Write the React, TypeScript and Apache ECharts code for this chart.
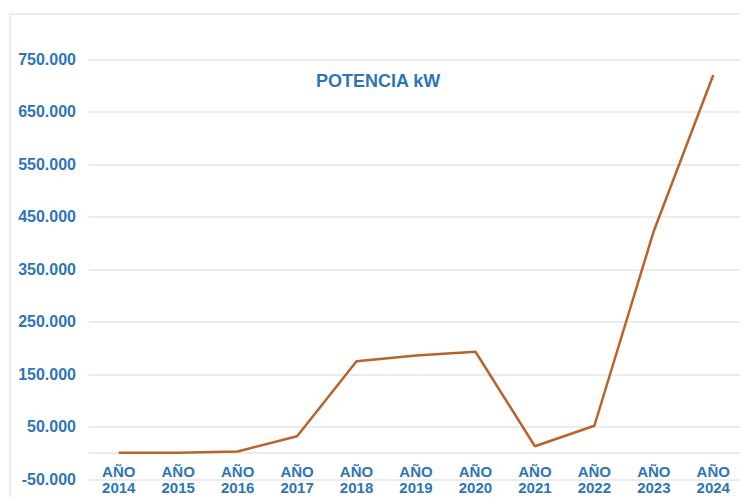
import React, { useEffect, useRef } from "react";
import * as echarts from "echarts";

const categories = ["AÑO\n2014", "AÑO\n2015", "AÑO\n2016", "AÑO\n2017", "AÑO\n2018", "AÑO\n2019", "AÑO\n2020", "AÑO\n2021", "AÑO\n2022", "AÑO\n2023", "AÑO\n2024"];
const potencia = [500, 600, 3000, 32000, 175000, 186000, 193000, 13000, 52000, 423000, 720000];
const gridValues = [-50000, 50000, 150000, 250000, 350000, 450000, 550000, 650000, 750000];

const BLUE = "#2e75b6";
const FONT = "'Liberation Sans', Arial, sans-serif";

function fmt(v: number): string {
  const s = Math.abs(v).toString().replace(/\B(?=(\d{3})+(?!\d))/g, ".");
  return (v < 0 ? "-" : "") + s;
}

export default function App() {
  const ref = useRef<HTMLDivElement>(null);
  useEffect(() => {
    if (!ref.current) return;
    const chart = echarts.init(ref.current, null, { renderer: "svg" });
    chart.setOption({
      animation: false,
      backgroundColor: "#ffffff",
      title: {
        text: "POTENCIA kW",
        left: 311,
        top: 67,
        textStyle: { color: BLUE, fontSize: 18, fontWeight: "bold", fontFamily: FONT },
      },
      graphic: [
        {
          type: "rect",
          shape: { x: 10, y: 14, width: 760, height: 520 },
          style: { fill: "none", stroke: "#e6e6e6", lineWidth: 1.5 },
          silent: true,
          z: -10,
        },
      ],
      grid: {
        left: 89,
        right: -3,
        top: 59.3,
        bottom: 17.7,
        containLabel: false,
        outerBoundsMode: "none",
      },
      xAxis: {
        type: "category",
        data: categories,
        boundaryGap: true,
        position: "bottom",
        offset: -26.25,
        axisTick: { show: false },
        axisLine: { show: true, onZero: false, lineStyle: { color: "#e6e6e6", width: 1.5 } },
        axisLabel: {
          color: BLUE,
          fontSize: 15,
          fontWeight: "bold",
          fontFamily: FONT,
          lineHeight: 16,
          margin: 10,
          interval: 0,
        },
        splitLine: { show: false },
      },
      yAxis: {
        type: "value",
        min: -50000,
        max: 750000,
        interval: 50000,
        axisLine: { show: false },
        axisTick: { show: false },
        splitLine: { show: false },
        axisLabel: {
          color: BLUE,
          fontSize: 16,
          fontWeight: "bold",
          fontFamily: FONT,
          margin: 13,
          formatter: (v: number) => (Math.abs(v) % 100000 === 50000 ? fmt(v) : ""),
        },
      },
      series: [
        {
          type: "line",
          data: potencia,
          symbol: "none",
          z: 3,
          lineStyle: { color: "#b9632c", width: 2.5 },
          markLine: {
            silent: true,
            z: 1,
            symbol: ["none", "none"],
            label: { show: false },
            lineStyle: { color: "#e6e6e6", type: "solid", width: 1.5 },
            data: gridValues.map((v) => ({ yAxis: v })),
          },
        },
      ],
    });
    return () => chart.dispose();
  }, []);
  return (
    <div
      ref={ref}
      style={{ position: "fixed", left: 0, top: 0, width: 740, height: 497 }}
    />
  );
}
